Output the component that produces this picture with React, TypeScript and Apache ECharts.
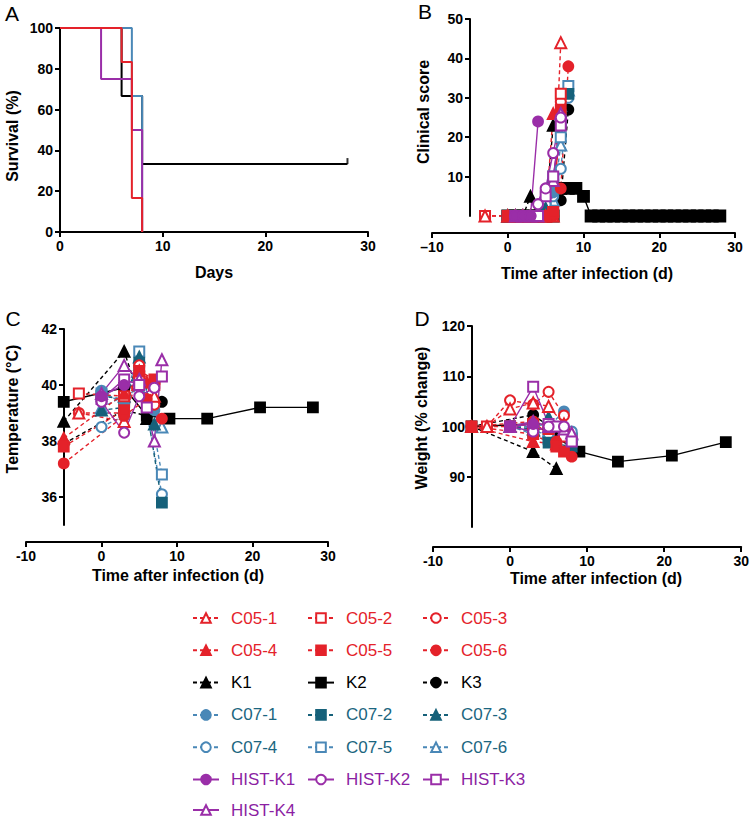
import React, { useEffect, useRef } from 'react';
import * as echarts from 'echarts';

const FONT = "'Liberation Sans', Arial, Helvetica, sans-serif";

// ---------- Panel A: survival (%) ----------
const survivalK = [[0, 100], [6, 66.7], [8, 33.3], [28, 33.3]];
const survivalC07 = [[0, 100], [7, 66.7], [8, 0]];
const survivalHIST = [[0, 100], [4, 75], [7, 50], [8, 0]];
const survivalC05 = [[0, 100], [6, 83.3], [7, 16.7], [8, 0]];
const censorK = [[28, 33.3]];

// ---------- subjects (legend order) ----------
const subjects = [
  'C05-1', 'C05-2', 'C05-3', 'C05-4', 'C05-5', 'C05-6',
  'K1', 'K2', 'K3',
  'C07-1', 'C07-2', 'C07-3', 'C07-4', 'C07-5', 'C07-6',
  'HIST-K1', 'HIST-K2', 'HIST-K3', 'HIST-K4',
];
const legendCol1 = ['C05-1', 'C05-4', 'K1', 'C07-1', 'C07-4', 'HIST-K1'];
const legendCol2 = ['C05-2', 'C05-5', 'K2', 'C07-2', 'C07-5', 'HIST-K2'];
const legendCol3 = ['C05-3', 'C05-6', 'K3', 'C07-3', 'C07-6', 'HIST-K3'];
const legendLast = ['HIST-K4'];

// ---------- Panel B: clinical score ----------
const scoreC05_1 = [[-3, 0], [0, 0], [1, 0], [2, 0], [3, 0], [4, 0], [5, 0], [6, 0], [7, 44]];
const scoreC05_2 = [[-3, 0], [0, 0], [1, 0], [2, 0], [3, 0], [4, 0], [5, 0], [6, 1], [7, 31]];
const scoreC05_3 = [[-3, 0], [0, 0], [1, 0], [2, 0], [3, 0], [4, 0], [5, 0], [6, 0], [7, 29]];
const scoreC05_4 = [[0, 0], [1, 0], [2, 0], [3, 0], [4, 0], [5, 0], [6, 26]];
const scoreC05_5 = [[0, 0], [1, 0], [2, 0], [3, 0], [4, 0], [5, 0], [6, 1], [7, 27]];
const scoreC05_6 = [[0, 0], [1, 0], [2, 0], [3, 0], [4, 0], [5, 0], [6, 0], [7, 7], [8, 38]];
const scoreK1 = [[0, 0], [1, 0], [2, 0], [3, 5], [4, 0], [5, 1], [6, 23]];
const scoreK2 = [[0, 0], [1, 0], [2, 0], [3, 0], [4, 0], [5, 0], [6, 0], [7, 7], [8, 7], [9, 7], [10, 5],
  [11, 0], [12, 0], [13, 0], [14, 0], [15, 0], [16, 0], [17, 0], [18, 0], [19, 0], [20, 0], [21, 0],
  [22, 0], [23, 0], [24, 0], [25, 0], [26, 0], [27, 0], [28, 0]];
const scoreK3 = [[0, 0], [1, 0], [2, 0], [3, 0], [4, 0], [5, 0], [6, 0], [7, 4], [8, 27]];
const scoreC07_1 = [[0, 0], [1, 0], [2, 0], [3, 0], [4, 0], [5, 0], [6, 6], [7, 26]];
const scoreC07_2 = [[0, 0], [1, 0], [2, 0], [3, 0], [4, 0], [5, 1], [6, 8], [7, 24], [8, 31]];
const scoreC07_3 = [[0, 0], [1, 0], [2, 0], [3, 0], [4, 0], [5, 2], [6, 7], [7, 28]];
const scoreC07_4 = [[0, 0], [1, 0], [2, 0], [3, 0], [4, 0], [5, 3], [6, 5], [7, 12], [8, 30]];
const scoreC07_5 = [[0, 0], [1, 0], [2, 0], [3, 0], [4, 0], [5, 2], [6, 10], [7, 20], [8, 33]];
const scoreC07_6 = [[0, 0], [1, 0], [2, 0], [3, 0], [4, 0], [5, 1], [6, 4], [7, 18], [8, 32]];
const scoreHK1 = [[1, 0], [2, 0], [3, 0], [4, 24]];
const scoreHK2 = [[1, 0], [2, 0], [3, 0], [4, 3], [5, 7], [6, 16], [7, 25]];
const scoreHK3 = [[1, 0], [2, 0], [3, 0], [4, 0], [5, 5], [6, 10], [7, 23]];
const scoreHK4 = [[1, 0], [2, 0], [3, 0], [4, 0], [5, 6], [6, 9], [7, 26]];

// ---------- Panel C: temperature ----------
const tempC05_1 = [[-3, 39.0], [3, 38.7], [5, 40.5], [7, 39.6]];
const tempC05_2 = [[-3, 39.7], [3, 39.6], [5, 40.3], [7, 40.0]];
const tempC05_3 = [[-3, 39.0], [3, 39.0], [5, 40.7], [7, 39.3]];
const tempC05_4 = [[-5, 38.1], [3, 39.7], [6, 40.1]];
const tempC05_5 = [[-5, 37.8], [3, 39.1], [5, 40.5], [7, 40.2]];
const tempC05_6 = [[-5, 37.2], [3, 38.9], [6, 39.5], [8, 38.8]];
const tempK1 = [[-5, 38.7], [3, 41.2], [6, 38.8]];
const tempK2 = [[-5, 39.4], [3, 39.9], [6, 38.9], [9, 38.8], [14, 38.8], [21, 39.2], [28, 39.2]];
const tempK3 = [[-5, 37.9], [3, 39.1], [6, 38.9], [8, 39.4]];
const tempC07_1 = [[0, 39.8], [3, 39.3], [5, 40.0], [7, 39.1]];
const tempC07_2 = [[0, 39.6], [3, 39.5], [5, 40.8], [8, 35.8]];
const tempC07_3 = [[0, 39.1], [3, 39.2], [5, 41.0], [7, 38.6]];
const tempC07_4 = [[0, 38.5], [3, 38.9], [5, 40.5], [8, 36.1]];
const tempC07_5 = [[0, 39.7], [3, 39.4], [5, 41.2], [8, 36.8]];
const tempC07_6 = [[0, 39.2], [3, 39.6], [5, 40.4], [8, 38.5]];
const tempHK1 = [[0, 39.6], [3, 40.0]];
const tempHK2 = [[0, 39.4], [3, 38.3], [5, 39.6], [7, 39.9]];
const tempHK3 = [[0, 39.5], [3, 40.2], [5, 40.0], [6, 39.2], [8, 40.3]];
const tempHK4 = [[0, 39.7], [3, 40.7], [5, 40.2], [7, 38.0], [8, 40.9]];

// ---------- Panel D: weight (% change) ----------
const weightC05_1 = [[-3, 100], [0, 103.5], [3, 104.7], [5, 104], [7, 100.5]];
const weightC05_2 = [[-3, 100], [0, 100], [3, 100.5], [5, 99.5], [7, 98]];
const weightC05_3 = [[-3, 100], [0, 105.2], [3, 104.4], [5, 106.9], [7, 102.2]];
const weightC05_4 = [[-5, 100], [3, 97], [6, 96.5]];
const weightC05_5 = [[-5, 100], [3, 98.5], [6, 96], [7, 95]];
const weightC05_6 = [[-5, 100], [3, 101], [6, 97], [8, 94]];
const weightK1 = [[-5, 100], [3, 95], [6, 91.6]];
const weightK2 = [[-5, 100], [3, 100.5], [6, 97.8], [9, 95], [14, 93], [21, 94.2], [28, 96.9]];
const weightK3 = [[-5, 100], [3, 102.3], [6, 99], [8, 98.5]];
const weightC07_1 = [[0, 100], [3, 100.5], [5, 100], [7, 103]];
const weightC07_2 = [[0, 100], [3, 99], [5, 96.8], [8, 96]];
const weightC07_3 = [[0, 100], [3, 99.5], [5, 101.8], [7, 100]];
const weightC07_4 = [[0, 100], [3, 99], [5, 98.5], [8, 99]];
const weightC07_5 = [[0, 100], [3, 98.5], [5, 97.5], [8, 97.5]];
const weightC07_6 = [[0, 100], [3, 100], [5, 99], [8, 98.5]];
const weightHK1 = [[0, 100], [3, 100.5]];
const weightHK2 = [[0, 100], [3, 99], [5, 100], [7, 100]];
const weightHK3 = [[0, 100], [3, 107.9], [5, 100.5], [6, 100], [8, 97]];
const weightHK4 = [[0, 100], [3, 101], [5, 100], [7, 99.5], [8, 98.7]];

// axis ticks
const ticksA_x = [0, 10, 20, 30];
const ticksA_y = [0, 20, 40, 60, 80, 100];
const ticksB_y = [10, 20, 30, 40, 50];
const ticksC_y = [36, 38, 40, 42];
const ticksD_y = [90, 100, 110, 120];

const scoreData = [scoreC05_1, scoreC05_2, scoreC05_3, scoreC05_4, scoreC05_5, scoreC05_6, scoreK1, scoreK2, scoreK3,
  scoreC07_1, scoreC07_2, scoreC07_3, scoreC07_4, scoreC07_5, scoreC07_6, scoreHK1, scoreHK2, scoreHK3, scoreHK4];
const tempData = [tempC05_1, tempC05_2, tempC05_3, tempC05_4, tempC05_5, tempC05_6, tempK1, tempK2, tempK3,
  tempC07_1, tempC07_2, tempC07_3, tempC07_4, tempC07_5, tempC07_6, tempHK1, tempHK2, tempHK3, tempHK4];
const weightData = [weightC05_1, weightC05_2, weightC05_3, weightC05_4, weightC05_5, weightC05_6, weightK1, weightK2, weightK3,
  weightC07_1, weightC07_2, weightC07_3, weightC07_4, weightC07_5, weightC07_6, weightHK1, weightHK2, weightHK3, weightHK4];

// drawing order (later = on top)
const drawOrder = [
  'K3', 'K2', 'K1',
  'C07-6', 'C07-5', 'C07-4', 'C07-3', 'C07-2', 'C07-1',
  'C05-3', 'C05-2', 'C05-1', 'C05-6', 'C05-4', 'C05-5',
  'HIST-K4', 'HIST-K3', 'HIST-K2', 'HIST-K1',
];

// ---------- styles ----------
const RED = '#e4222a';
const BLACK = '#000000';
const BLUE = '#4a88b7';
const TEAL = '#16617a';
const PURPLE = '#9a2ea8';
const TEXT_TEAL = '#1b6680';
const TEXT_PURPLE = '#8c1fa3';

const styles: Record<string, { color: string; symbol: string; dash: boolean; text: string }> = {
  'C05-1': { color: RED, symbol: 'emptyTriangle', dash: true, text: RED },
  'C05-2': { color: RED, symbol: 'emptyRect', dash: true, text: RED },
  'C05-3': { color: RED, symbol: 'emptyCircle', dash: true, text: RED },
  'C05-4': { color: RED, symbol: 'triangle', dash: true, text: RED },
  'C05-5': { color: RED, symbol: 'rect', dash: true, text: RED },
  'C05-6': { color: RED, symbol: 'circle', dash: true, text: RED },
  'K1': { color: BLACK, symbol: 'triangle', dash: true, text: BLACK },
  'K2': { color: BLACK, symbol: 'rect', dash: false, text: BLACK },
  'K3': { color: BLACK, symbol: 'circle', dash: true, text: BLACK },
  'C07-1': { color: BLUE, symbol: 'circle', dash: true, text: TEXT_TEAL },
  'C07-2': { color: TEAL, symbol: 'rect', dash: true, text: TEXT_TEAL },
  'C07-3': { color: TEAL, symbol: 'triangle', dash: true, text: TEXT_TEAL },
  'C07-4': { color: BLUE, symbol: 'emptyCircle', dash: true, text: TEXT_TEAL },
  'C07-5': { color: BLUE, symbol: 'emptyRect', dash: true, text: TEXT_TEAL },
  'C07-6': { color: BLUE, symbol: 'emptyTriangle', dash: true, text: TEXT_TEAL },
  'HIST-K1': { color: PURPLE, symbol: 'circle', dash: false, text: TEXT_PURPLE },
  'HIST-K2': { color: PURPLE, symbol: 'emptyCircle', dash: false, text: TEXT_PURPLE },
  'HIST-K3': { color: PURPLE, symbol: 'emptyRect', dash: false, text: TEXT_PURPLE },
  'HIST-K4': { color: PURPLE, symbol: 'emptyTriangle', dash: false, text: TEXT_PURPLE },
};

const axisLineStyle = { show: true, onZero: false, lineStyle: { color: '#000', width: 2 } };
const axisTickStyle = { show: true, length: 5, lineStyle: { color: '#000', width: 2 } };
const labelStyle = { color: '#000', fontWeight: 'bold' as const, fontSize: 14, fontFamily: FONT, margin: 7 };

function subjectSeries(name: string, data: number[][], idx: number) {
  const s = styles[name];
  const isTri = s.symbol.toLowerCase().includes('triangle');
  const size = name === 'K2' && idx === 1 ? 11 : isTri ? 11 : 10;
  return {
    type: 'line',
    name,
    data,
    xAxisIndex: idx,
    yAxisIndex: idx,
    symbol: s.symbol,
    symbolSize: size,
    itemStyle: { color: s.color, borderColor: s.color, borderWidth: 1.8 },
    lineStyle: { color: s.color, width: 1.4, type: s.dash ? [4, 3] : 'solid' },
    emphasis: { disabled: true },
  };
}

function survivalSeries(name: string, data: number[][], color: string) {
  return {
    type: 'line', name, data, step: 'end', xAxisIndex: 0, yAxisIndex: 0,
    symbol: 'none', lineStyle: { color, width: 2 }, emphasis: { disabled: true },
  };
}

function legendFor(names: string[], left: number, top: number) {
  return {
    orient: 'vertical', left, top, padding: 0, itemWidth: 26, itemHeight: 12, itemGap: 12.3,
    selectedMode: false,
    data: names.map((n) => ({ name: n, textStyle: { color: styles[n].text } })),
    textStyle: { fontSize: 17, fontFamily: FONT, lineHeight: 20, padding: [0, 0, 0, 7] },
  };
}

const minusDash = (v: number) => (v < 0 ? '\u2013' + Math.abs(v) : String(v));
const hyphen = (v: number) => String(v);

function xAxisTime(idx: number, offset: number, fmt: (v: number) => string) {
  return {
    type: 'value', gridIndex: idx, min: -10, max: 30, interval: 10, offset,
    axisLine: axisLineStyle, axisTick: axisTickStyle,
    axisLabel: { ...labelStyle, formatter: fmt }, splitLine: { show: false },
  };
}

function yAxisCustom(idx: number, min: number, max: number, ticks: number[], offset: number) {
  return {
    type: 'value', gridIndex: idx, min, max, offset,
    axisLine: axisLineStyle,
    axisTick: { ...axisTickStyle, customValues: ticks },
    axisLabel: { ...labelStyle, customValues: ticks },
    splitLine: { show: false },
  };
}

function textEl(text: string, x: number, y: number, size: number, bold: boolean, rotate = false) {
  return {
    type: 'text', x, y, rotation: rotate ? Math.PI / 2 : 0,
    style: {
      text, fill: '#000', fontSize: size, fontWeight: bold ? 'bold' : 'normal', fontFamily: FONT,
      align: 'center', verticalAlign: 'middle',
    },
  };
}

export default function App() {
  const ref = useRef<HTMLDivElement>(null);
  useEffect(() => {
    if (!ref.current) return;
    const chart = echarts.init(ref.current, undefined, { renderer: 'svg' });
    const series: any[] = [];
    const idxOf = (n: string) => subjects.indexOf(n);
    drawOrder.forEach((n) => series.push(subjectSeries(n, scoreData[idxOf(n)], 1)));
    drawOrder.forEach((n) => series.push(subjectSeries(n, tempData[idxOf(n)], 2)));
    drawOrder.forEach((n) => series.push(subjectSeries(n, weightData[idxOf(n)], 3)));
    series.push(survivalSeries('survival K', survivalK, BLACK));
    series.push(survivalSeries('survival C07', survivalC07, BLUE));
    series.push(survivalSeries('survival HIST', survivalHIST, PURPLE));
    series.push(survivalSeries('survival C05', survivalC05, RED));
    series.push({
      type: 'scatter', name: 'censor', data: censorK, xAxisIndex: 0, yAxisIndex: 0,
      symbol: 'rect', symbolSize: [2, 6], symbolOffset: [0, -3], itemStyle: { color: BLACK },
      emphasis: { disabled: true },
    });

    chart.setOption({
      animation: false,
      backgroundColor: '#fff',
      grid: [
        { left: 60, top: 28, width: 308, height: 204 },
        { left: 432, top: 19, width: 303, height: 197 },
        { left: 26, top: 329, width: 302, height: 196 },
        { left: 433, top: 326, width: 310, height: 201 },
      ],
      xAxis: [
        {
          type: 'value', gridIndex: 0, min: 0, max: 30, interval: 10,
          axisLine: axisLineStyle, axisTick: { ...axisTickStyle, customValues: ticksA_x },
          axisLabel: { ...labelStyle, customValues: ticksA_x }, splitLine: { show: false },
        },
        xAxisTime(1, 17, minusDash),
        xAxisTime(2, 17, hyphen),
        xAxisTime(3, 20, hyphen),
      ],
      yAxis: [
        {
          type: 'value', gridIndex: 0, min: 0, max: 100, interval: 20,
          axisLine: axisLineStyle, axisTick: { ...axisTickStyle, customValues: ticksA_y },
          axisLabel: { ...labelStyle, customValues: ticksA_y }, splitLine: { show: false },
        },
        yAxisCustom(1, 0, 50, ticksB_y, -38),
        yAxisCustom(2, 35, 42, ticksC_y, -38),
        yAxisCustom(3, 80, 120, ticksD_y, -39),
      ],
      legend: [
        legendFor(legendCol1, 192, 608),
        legendFor(legendCol2, 307, 608),
        legendFor(legendCol3, 422, 608),
        legendFor(legendLast, 192, 800),
      ],
      graphic: [
        textEl('A', 12, 13, 21, false),
        textEl('B', 425, 11, 21, false),
        textEl('C', 13, 318, 21, false),
        textEl('D', 422, 318, 21, false),
        textEl('Survival (%)', 12, 136, 16, true, true),
        textEl('Days', 214, 272, 16, true),
        textEl('Clinical score', 423, 112, 16, true, true),
        textEl('Time after infection (d)', 587, 273, 16, true),
        textEl('Temperature (\u00B0C)', 12, 409, 16, true, true),
        textEl('Time after infection (d)', 178, 575, 16, true),
        textEl('Weight (% change)', 421, 418, 16, true, true),
        textEl('Time after infection (d)', 596, 578, 16, true),
      ],
      series,
    });
    return () => chart.dispose();
  }, []);
  return <div ref={ref} style={{ position: 'absolute', left: 0, top: 0, width: 752, height: 819 }} />;
}
